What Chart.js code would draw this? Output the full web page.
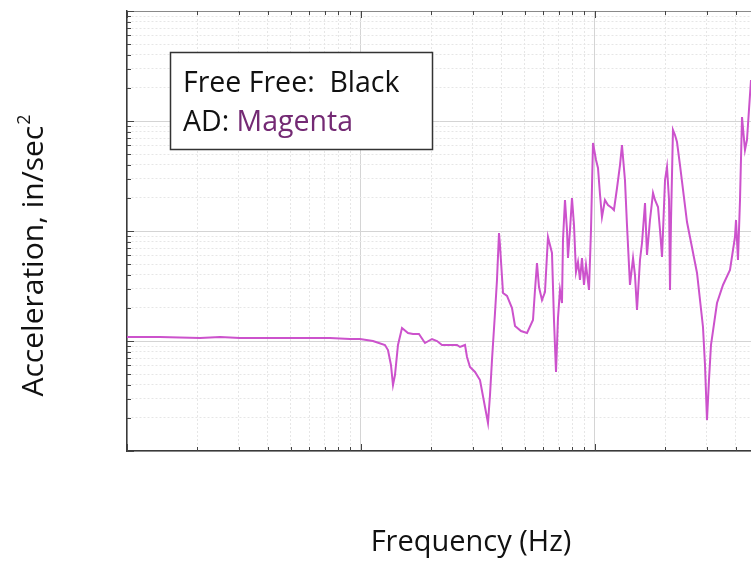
<!DOCTYPE html>
<html>
<head>
<meta charset="utf-8">
<title>Acceleration vs Frequency</title>
<style>
  html, body { margin: 0; padding: 0; background: #ffffff; overflow: hidden; }
  canvas { display: block; }
</style>
<script src="https://cdn.jsdelivr.net/npm/chart.js@4.4.1/dist/chart.umd.min.js"></script>
</head>
<body>
<canvas id="chart" width="751" height="561"></canvas>
<script>
// Frequency response of the AD configuration (log-log).
const freqHz = [
  10, 13.8, 20.5, 25.0, 30.4, 45.1, 73.7, 89.7, 99.0, 112.5,
  126.6, 130.4, 134.3, 137.0, 139.7, 143.9, 149.7, 158.8, 166.8, 176.9,
  187.7, 201.1, 211.3, 221.9, 240.1, 257.2, 264.9, 278.3, 283.8, 292.3,
  307.1, 322.5, 338.8, 348.9, 355.9, 362.9, 373.8, 381.2, 388.8, 392.6,
  404.5, 420.7, 441.9, 455.2, 482.9, 512.3, 543.3, 554.1, 565.1, 576.3,
  593.6, 611.3, 629.6, 642.1, 654.9, 667.9, 681.3, 694.8, 708.6, 722.7,
  729.8, 744.3, 759.1, 766.6, 781.9, 797.4, 813.3, 829.4, 846.0, 862.8,
  879.8, 897.4, 915.2, 942.8, 961.4, 980.6, 1010, 1030, 1051, 1071,
  1103, 1136, 1182, 1205, 1242, 1279, 1304, 1343, 1370, 1411,
  1454, 1482, 1512, 1557, 1588, 1636, 1668, 1718, 1770, 1805,
  1859, 1896, 1934, 1992, 2031, 2072, 2092, 2113, 2154, 2197,
  2241, 2308, 2473, 2729, 2894, 2952, 3010, 3070, 3131, 3322,
  3524, 3775, 3965, 4005, 4084, 4166, 4249, 4375, 4462, 4550,
  4642, 4829
];

const accelAD = [
  1.087, 1.087, 1.065, 1.087, 1.065, 1.065, 1.065, 1.043, 1.043, 1.0,
  0.920, 0.828, 0.605, 0.398, 0.491, 0.920, 1.313, 1.182, 1.158, 1.158,
  0.959, 1.043, 1.0, 0.920, 0.920, 0.920, 0.882, 0.920, 0.715, 0.580,
  0.523, 0.442, 0.251, 0.180, 0.323, 0.672, 1.797, 3.585, 9.59, 7.46,
  2.732, 2.566, 1.995, 1.369, 1.233, 1.182, 1.552, 2.909, 5.118, 3.097,
  2.359, 2.790, 8.82, 7.46, 6.31, 1.552, 0.523, 1.619, 2.909, 2.215,
  8.28, 19.13, 10.21, 5.68, 10.21, 19.95, 11.34, 4.24, 5.23, 3.585,
  5.68, 3.23, 4.91, 2.909, 10.21, 63.1, 44.2, 37.4, 21.24, 13.41,
  19.13, 17.23, 16.19, 15.52, 24.6, 39.8, 60.5, 29.09, 11.34, 3.23,
  5.68, 3.98, 1.913, 5.45, 7.78, 17.97, 6.05, 12.59, 22.15, 19.13,
  16.53, 10.21, 5.80, 29.09, 38.2, 19.13, 2.909, 12.59, 82.8, 74.6,
  64.4, 39.8, 12.07, 4.15, 1.341, 0.605, 0.191, 0.442, 0.920, 2.215,
  3.23, 4.42, 8.82, 12.59, 5.45, 19.13, 108.7, 54.5, 67.2, 125.9,
  235.9, 358.5
];

// Axis extents (Hz and in/sec^2)
const xRange = [10, 4642];
const yRange = [0.1, 1000];

// Text
const xTitle = 'Frequency (Hz)';
const yTitle = 'Acceleration, in/sec';
const yTitleSup = '2';
const noteLine1 = 'Free Free:  Black';
const noteLine2a = 'AD: ';
const noteLine2b = 'Magenta';

const FONT = '"Open Sans", "Noto Sans", sans-serif';
const LINE_COLOR = '#cc52cc';

// 1-2-...-9 log ticks between min and max
function logTicks(min, max) {
  const out = [];
  for (let p = Math.floor(Math.log10(min)); p <= Math.ceil(Math.log10(max)); p++) {
    for (let d = 1; d <= 9; d++) {
      const v = d * Math.pow(10, p);
      if (v >= min * 0.999 && v <= max * 1.001) out.push({ value: v, major: d === 1 });
    }
  }
  return out;
}

const gridColor = ctx => (ctx.tick && ctx.tick.major) ? '#d4d4d4' : '#e6e6e6';
const gridDash = ctx => (ctx.tick && !ctx.tick.major) ? [2, 2] : [];

// Inward tick marks and the top frame edge
const frameTicks = {
  id: 'frameTicks',
  afterDraw(chart) {
    const { ctx, chartArea: a, scales: { x, y } } = chart;
    ctx.save();
    ctx.strokeStyle = '#8a8a8a';
    ctx.lineWidth = 1;
    ctx.beginPath();
    ctx.moveTo(a.left, a.top + 0.5);
    ctx.lineTo(a.right, a.top + 0.5);
    ctx.stroke();

    ctx.strokeStyle = '#444';
    ctx.beginPath();
    x.ticks.forEach(t => {
      const px = Math.round(x.getPixelForValue(t.value)) + 0.5;
      const len = t.major ? 7 : 4;
      ctx.moveTo(px, a.bottom);
      ctx.lineTo(px, a.bottom - len);
      ctx.moveTo(px, a.top);
      ctx.lineTo(px, a.top + len);
    });
    y.ticks.forEach(t => {
      const py = Math.round(y.getPixelForValue(t.value)) + 0.5;
      const len = t.major ? 7 : 4;
      ctx.moveTo(a.left, py);
      ctx.lineTo(a.left + len, py);
    });
    ctx.stroke();
    ctx.restore();
  }
};

// Axis titles and the colour key box
const annotations = {
  id: 'annotations',
  afterDraw(chart) {
    const { ctx } = chart;
    ctx.save();

    // key box
    ctx.fillStyle = '#ffffff';
    ctx.fillRect(170, 52, 263, 98);
    ctx.strokeStyle = '#333333';
    ctx.lineWidth = 1.5;
    ctx.strokeRect(170.5, 52.5, 262, 97);

    ctx.font = `28.5px ${FONT}`;
    ctx.textBaseline = 'alphabetic';
    ctx.textAlign = 'left';
    ctx.fillStyle = '#111111';
    ctx.fillText(noteLine1, 183, 92);
    ctx.fillText(noteLine2a, 183, 131);
    const w = ctx.measureText(noteLine2a).width;
    ctx.fillStyle = '#742a74';
    ctx.fillText(noteLine2b, 183 + w, 131);

    // x title
    ctx.fillStyle = '#111111';
    ctx.font = `29px ${FONT}`;
    ctx.textAlign = 'center';
    ctx.fillText(xTitle, 471, 551);

    // y title, rotated, with superscript
    ctx.translate(43, 256);
    ctx.rotate(-Math.PI / 2);
    ctx.font = `30px ${FONT}`;
    const mainW = ctx.measureText(yTitle).width;
    ctx.font = `18px ${FONT}`;
    const supW = ctx.measureText(yTitleSup).width;
    const start = -(mainW + supW) / 2;
    ctx.textAlign = 'left';
    ctx.font = `30px ${FONT}`;
    ctx.fillText(yTitle, start, 0);
    ctx.font = `18px ${FONT}`;
    ctx.fillText(yTitleSup, start + mainW + 1, -13);

    ctx.restore();
  }
};

new Chart(document.getElementById('chart'), {
  type: 'line',
  data: {
    datasets: [{
      label: 'AD',
      data: freqHz.map((f, i) => ({ x: f, y: accelAD[i] })),
      borderColor: LINE_COLOR,
      borderWidth: 2,
      pointRadius: 0,
      tension: 0,
      fill: false
    }]
  },
  options: {
    responsive: false,
    animation: false,
    events: [],
    layout: { padding: { left: 127, top: 11, right: 0, bottom: 110 } },
    plugins: {
      legend: { display: false },
      tooltip: { enabled: false },
      title: { display: false }
    },
    scales: {
      x: {
        type: 'logarithmic',
        min: xRange[0],
        max: xRange[1],
        afterBuildTicks: s => { s.ticks = logTicks(xRange[0], xRange[1]); },
        afterFit: s => { s.height = 0; },
        ticks: { display: false },
        grid: { color: gridColor, lineWidth: 1, drawTicks: false },
        border: { display: true, color: '#3a3a3a', width: 1.5, dash: gridDash }
      },
      y: {
        type: 'logarithmic',
        min: yRange[0],
        max: yRange[1],
        afterBuildTicks: s => { s.ticks = logTicks(yRange[0], yRange[1]); },
        afterFit: s => { s.width = 0; },
        ticks: { display: false },
        grid: { color: gridColor, lineWidth: 1, drawTicks: false },
        border: { display: true, color: '#3a3a3a', width: 1.5, dash: gridDash }
      }
    }
  },
  plugins: [frameTicks, annotations]
});
</script>
</body>
</html>
